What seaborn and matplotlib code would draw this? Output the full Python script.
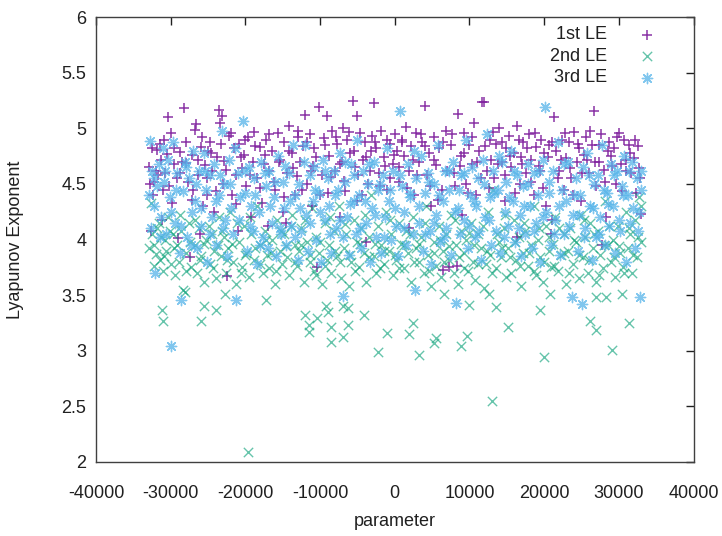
import seaborn as sns
import matplotlib.pyplot as plt
import matplotlib.ticker as mticker
import pandas as pd

# 1st LE (purple +)
le1_x = [-32800, -32500, -32300, -32000, -31800, -31500, -31300, -31000, -32600, -31200,
         -30800, -30500, -30300, -30000, -29800, -29500, -29200, -29000,
         -28800, -28500, -28200, -28000, -27700, -27400, -27200, -27000,
         -26800, -26600, -26300, -26000, -25700, -25400, -25200, -25000,
         -24800, -24500, -24200, -23800, -23500, -23200, -23000, -23400,
         -22800, -22400, -22200, -21800, -21500, -21200, -21000,
         -20800, -20500, -20200, -19900, -19600, -19300, -19000,
         -18800, -18500, -18100, -17800, -17500, -17200, -17000,
         -16800, -16400, -16000, -15700, -15400, -15000,
         -14800, -14400, -14100, -13800, -13400, -13100, -13000,
         -12700, -12300, -12000, -11700, -11400, -11100, -11000,
         -10800, -10400, -10100, -9800, -9500, -9100, -9000,
         -8800, -8400, -8000, -7700, -7400, -7100, -7000,
         -6800, -6400, -6000, -5600, -5300, -5000, -5100,
         -4700, -4300, -4000, -3600, -3200, -3000,
         -2800, -2500, -2100, -1800, -1400, -1100, -1000,
         -700, -300, 0, 300, 600, 900,
         1200, 1500, 1900, 2200, 2600, 2900,
         3200, 3600, 4000, 4300, 4600, 4900,
         5200, 5500, 5900, 6300, 6500, 6800,
         7300, 7500, 7900, 8300, 8500, 8800,
         9200, 9500, 9900, 10300, 10600, 10900,
         11300, 11700, 12000, 12300, 12700, 12900,
         13300, 13600, 14000, 14400, 14700, 14900,
         15300, 15600, 16000, 16400, 16700, 16900,
         17200, 17600, 18000, 18300, 18700, 18900,
         19300, 19600, 20000, 20300, 20700, 20900,
         21300, 21600, 22000, 22400, 22700, 22900,
         23300, 23600, 24000, 24400, 24700, 24900,
         25300, 25600, 26000, 26400, 26700, 26900,
         27300, 27600, 28000, 28300, 28700, 28900,
         29300, 29600, 30000, 30300, 30700, 30900,
         31300, 31600, 32000, 32300, 32600, 32900, 32800,
         -32950, -32400, -31700, -30900, -30200, -29600, -28700, -27900, -27100, -26400,
         -25800, -25100, -24600, -24000, -23300, -22600, -21900, -21300, -20600, -20000,
         -19400, -18700, -18000, -17400, -16900, -16200, -15500, -14900, -14200, -13600,
         -12900, -12400, -11800, -11200, -10600, -10000, -9300, -8600, -7900, -7300,
         -6600, -6100, -5500, -4900, -4400, -3800, -3300, -2600, -2000, -1300,
         -600, -100, 500, 1000, 1700, 2400, 3000, 3500, 4100, 4700,
         5300, 5800, 6400, 7000, 7700, 8100, 8700, 9300, 9800, 10400,
         11000, 11500, 12100, 12600, 13100, 13800, 14300, 14800, 15400, 16100,
         16600, 17000, 17700, 18200, 18800, 19400, 19900, 20500, 21100, 21800,
         22300, 22800, 23400, 23900, 24500, 25100, 25700, 26200, 26800, 27400,
         28100, 28600, 29100, 29800, 30400, 31000, 31500, 32100, 32700,
         -26100, -14600, -3900, 1900, 9000, 16300, 21000, 27800]
le1_y = [4.50, 4.82, 4.52, 4.62, 4.81, 4.86, 4.72, 4.45, 4.08, 4.18,
         4.60, 4.77, 5.10, 4.96, 4.33, 4.68, 4.55, 4.01,
         4.79, 4.70, 5.18, 4.69, 4.52, 3.84, 4.76, 4.45,
         4.99, 5.04, 4.58, 4.83, 4.30, 4.67, 4.40, 4.80,
         4.88, 4.62, 4.25, 4.74, 5.17, 5.11, 4.50, 5.05,
         4.71, 3.67, 4.93, 4.40, 4.82, 4.58, 4.08,
         4.86, 4.64, 4.76, 4.48, 4.92, 4.20, 4.70,
         4.97, 4.55, 4.83, 4.33, 4.68, 4.90, 4.12,
         4.62, 4.80, 4.45, 4.96, 4.72, 4.25,
         4.88, 4.60, 5.02, 4.78, 4.40, 4.57, 4.92,
         4.70, 4.84, 5.12, 4.50, 4.95, 4.30, 4.66,
         4.82, 3.75, 5.19, 4.58, 4.91, 5.11, 4.42,
         4.75, 4.98, 4.62, 4.86, 4.20, 4.70, 5.00,
         4.53, 4.90, 4.78, 5.25, 4.65, 5.11, 4.35,
         4.96, 4.72, 4.88, 4.50, 4.80, 4.93,
         5.23, 4.82, 4.60, 4.98, 4.74, 4.45, 4.90,
         4.86, 4.68, 4.95, 4.80, 4.52, 4.90,
         4.75, 5.01, 4.62, 4.84, 4.40, 4.96,
         4.70, 4.88, 5.20, 4.58, 4.78, 4.30,
         4.92, 4.67, 4.82, 4.45, 3.73, 4.98,
         3.75, 4.85, 4.60, 3.76, 5.13, 4.75,
         4.96, 4.50, 4.85, 4.68, 5.05, 4.40,
         4.80, 5.24, 5.24, 4.62, 4.90, 4.72,
         4.55, 4.86, 5.00, 4.70, 4.35, 4.82,
         4.93, 4.65, 4.78, 5.02, 4.50, 4.74,
         4.88, 4.60, 4.95, 4.72, 4.40, 4.83,
         4.66, 4.90, 4.78, 4.30, 4.85, 4.05,
         5.10, 4.80, 4.62, 4.90, 4.45, 4.73,
         4.88, 4.55, 4.97, 4.70, 4.82, 4.35,
         4.76, 4.92, 4.60, 4.85, 5.16, 4.48,
         4.70, 4.95, 4.63, 4.20, 4.88, 4.75,
         4.82, 4.50, 4.96, 4.68, 4.90, 4.72,
         4.85, 4.60, 4.73, 4.42, 4.84, 4.23, 4.55,
         4.65, 4.40, 4.58, 4.90, 4.48, 4.82, 4.60, 4.88, 4.36, 4.72,
         4.92, 4.55, 4.78, 4.44, 4.86, 4.63, 4.96, 4.32, 4.74, 4.90,
         4.58, 4.84, 4.46, 4.76, 4.95, 4.52, 4.70, 4.38, 4.80, 4.64,
         4.98, 4.45, 4.88, 4.62, 4.74, 4.40, 4.85, 4.56, 4.92, 4.68,
         4.44, 4.97, 4.80, 4.58, 4.40, 4.74, 4.62, 4.88, 4.48, 4.66,
         4.55, 4.76, 4.65, 4.88, 4.46, 4.72, 4.58, 4.95, 4.84, 4.48,
         4.72, 4.36, 4.88, 4.62, 4.95, 4.48, 4.66, 4.78, 4.42, 4.92,
         4.70, 4.55, 4.84, 4.46, 4.97, 4.68, 4.88, 4.58, 4.75, 4.42,
         4.90, 4.68, 4.82, 4.52, 4.96, 4.62, 4.46, 4.74, 4.88, 4.55,
         4.72, 4.96, 4.64, 4.40, 4.86, 4.60, 4.72, 4.98, 4.70, 4.85,
         4.52, 4.80, 4.66, 4.92, 4.44, 4.62, 4.78, 4.90, 4.64,
         4.05, 4.15, 3.98, 4.10, 4.22, 4.02, 4.18, 3.95]

# 2nd LE (green x)
le2_x = [-32700, -32500, -32300, -32000, -31800, -31500, -31300, -31100,
         -30800, -30600, -30300, -30000, -29700, -29400, -29100,
         -28900, -28600, -28400, -28100, -27900, -27600, -27300,
         -26800, -26500, -26200, -25900, -25600, -25300,
         -24800, -24500, -24200, -23900, -23600, -23300,
         -22900, -22600, -22300, -22000, -21600, -21300,
         -20800, -20500, -20200, -19900, -19500, -19200,
         -18800, -18500, -18100, -17700, -17400, -17100,
         -16800, -16400, -16100, -15800, -15400, -15100,
         -14800, -14400, -14100, -13700, -13400, -13100,
         -12800, -12500, -12100, -11800, -11400, -11100,
         -10800, -10500, -10100, -9700, -9400, -9100,
         -8800, -8500, -8200, -7800, -7500, -7200,
         -6800, -6500, -6100, -5800, -5400, -5100,
         -4800, -4500, -4100, -3800, -3500, -3200,
         -2800, -2500, -2200, -1900, -1500, -1200,
         -800, -500, -200, 200, 500, 800,
         1200, 1500, 1800, 2200, 2500, 2800,
         3200, 3500, 3900, 4200, 4500, 4800,
         5200, 5500, 5900, 6200, 6500, 6800,
         7200, 7500, 7900, 8200, 8500, 8800,
         9200, 9500, 9800, 10200, 10500, 10800,
         11200, 11500, 11900, 12200, 12500, 12800,
         13200, 13500, 13900, 14200, 14600, 14900,
         15200, 15500, 15900, 16200, 16600, 16900,
         17200, 17500, 17900, 18200, 18600, 18900,
         19200, 19500, 19900, 20200, 20600, 20900,
         21200, 21500, 21900, 22200, 22600, 22900,
         23200, 23500, 23900, 24200, 24600, 24900,
         25200, 25500, 25900, 26200, 26600, 26900,
         27200, 27500, 27900, 28200, 28600, 28900,
         29200, 29500, 29900, 30200, 30600, 30900,
         31200, 31500, 31800, 32100, 32400, 32700, 32900,
         -32900, -32200, -31600, -30900, -30100, -29500, -28800, -28000, -27400, -26700,
         -26100, -25500, -24900, -24300, -23700, -23100, -22400, -21800, -21100, -20600,
         -20000, -19400, -18700, -18000, -17200, -16600, -15900, -15300, -14600, -13900,
         -13300, -12600, -12000, -11300, -10600, -10000, -9300, -8700, -8000, -7400,
         -6700, -6000, -5300, -4700, -4000, -3400, -2700, -2000, -1400, -700,
         0, 600, 1300, 2000, 2600, 3300, 4000, 4600, 5300, 6000,
         6600, 7300, 8000, 8600, 9300, 9900, 10600, 11100, 11800, 12400,
         13000, 13700, 14300, 14800, 15400, 16100, 16700, 17300, 18000, 18700,
         19300, 20000, 20700, 21300, 22000, 22700, 23300, 24000, 24700, 25300,
         26000, 26700, 27300, 28000, 28700, 29300, 30000, 30700, 31300, 31900,
         32500, 32900,
         # low outliers
         -31200, -31000, -25600, -25900, -23900, -22700, -17200, -19600,
         -12000, -11500, -11500, -10400, -9200, -9000, -8600, -8500,
         -6900, -6900, -6300, -6300, -4100, -2300, -1000, 1900,
         2400, 3200, 5200, 5500, 6600, 8800, 9700, 10000,
         12600, 13000, 13600, 15200, 19500, 20000, 20800, 26200,
         27000, 27000, 28300, 29100, 30400, 31300]
le2_y = [4.33, 4.05, 3.95, 3.87, 4.10, 3.82, 4.02, 3.72,
         4.00, 3.90, 4.20, 3.78, 4.05, 3.68, 3.95,
         3.80, 4.08, 3.55, 3.53, 3.88, 4.15, 3.75,
         3.95, 3.70, 4.10, 3.85, 3.62, 4.00,
         3.78, 4.05, 3.90, 3.65, 4.20, 3.85,
         4.02, 3.70, 3.92, 4.25, 3.80, 3.60,
         3.98, 3.75, 4.12, 3.88, 3.66, 4.05,
         3.82, 4.30, 3.95, 3.70, 4.08, 3.86,
         3.74, 4.00, 3.60, 4.18, 3.90, 3.78,
         4.05, 3.84, 3.68, 4.22, 3.95, 3.76,
         3.90, 4.10, 3.62, 3.98, 3.80, 4.28,
         3.72, 4.02, 3.88, 3.60, 4.15, 3.82,
         3.95, 3.70, 4.08, 3.85, 4.30, 3.65,
         3.92, 4.05, 3.58, 3.80, 4.18, 3.98,
         3.75, 4.10, 3.88, 3.62, 4.02, 4.40,
         3.85, 3.70, 4.12, 3.95, 3.78, 4.25,
         3.90, 4.05, 3.68, 3.82, 4.15, 3.96,
         3.74, 4.08, 3.88, 3.62, 4.20, 3.92,
         3.80, 4.02, 3.70, 4.30, 3.86, 3.58,
         3.98, 3.76, 4.12, 3.66, 3.90, 4.05,
         3.82, 4.22, 3.70, 3.95, 3.60, 4.08,
         3.88, 4.00, 3.72, 4.15, 3.80, 3.64,
         4.05, 3.92, 3.56, 3.78, 4.25, 3.86,
         4.45, 3.74, 3.98, 3.84, 4.10, 3.66,
         3.92, 3.70, 4.18, 3.82, 4.02, 3.58,
         3.88, 4.08, 3.76, 3.95, 4.30, 3.68,
         4.00, 3.84, 3.62, 4.12, 3.90, 3.75,
         3.96, 4.20, 3.72, 3.86, 4.05, 3.60,
         3.90, 4.10, 3.78, 3.98, 3.65, 4.22,
         3.84, 4.02, 3.70, 4.15, 3.92, 3.62,
         4.08, 3.86, 3.74, 4.35, 3.95, 3.80,
         4.00, 3.66, 4.12, 3.88, 3.75, 4.25,
         3.92, 4.05, 3.70, 4.18, 3.84, 4.38, 3.98,
         3.92, 3.76, 4.15, 3.85, 4.08, 3.92, 4.22, 3.72, 3.98, 4.18,
         3.82, 3.96, 4.12, 3.74, 3.95, 4.08, 3.82, 3.96, 4.15, 3.70,
         3.86, 4.20, 3.92, 3.78, 4.00, 3.88, 3.72, 4.08, 3.94, 4.12,
         3.80, 3.95, 4.18, 3.86, 3.68, 3.98, 3.76, 4.20, 3.90, 3.80,
         4.14, 3.86, 3.72, 3.96, 4.22, 3.84, 3.96, 3.74, 3.90, 4.18,
         3.86, 3.74, 3.95, 4.05, 3.80, 3.96, 4.15, 3.72, 3.88, 4.00,
         3.80, 3.94, 4.18, 3.84, 3.74, 4.06, 3.95, 3.78, 4.12, 3.90,
         3.70, 4.05, 3.92, 4.22, 3.84, 3.98, 3.76, 4.15, 3.88, 3.72,
         4.10, 3.80, 4.02, 3.76, 4.10, 3.88, 3.70, 4.00, 3.86, 4.18,
         3.82, 4.05, 3.68, 3.95, 4.12, 3.84, 3.94, 3.70, 4.10, 3.86,
         4.02, 4.30,
         3.37, 3.27, 3.40, 3.27, 3.37, 3.51, 3.46, 2.09,
         3.32, 3.23, 3.17, 3.29, 3.40, 3.35, 3.21, 3.08,
         3.40, 3.12, 3.38, 3.23, 3.32, 2.99, 3.16, 3.15,
         3.25, 2.96, 3.07, 3.11, 3.51, 3.04, 3.13, 3.41,
         3.51, 2.55, 3.39, 3.21, 3.37, 2.94, 3.51, 3.27,
         3.19, 3.48, 3.48, 3.01, 3.51, 3.25]

# 3rd LE (blue asterisk)
le3_x = [-32800, -32600, -32500, -32300, -32100, -31900, -31600, -31300, -31100,
         -30900, -30600, -30400, -30100, -29900, -29700, -29400, -29100,
         -28800, -28600, -28400, -28100, -27800, -27500, -27200, -27000,
         -26800, -26500, -26200, -25900, -25600, -25300, -25100,
         -24800, -24500, -24200, -23900, -23600, -23200, -23000,
         -22800, -22500, -22200, -21900, -21600, -21200, -21000,
         -20800, -20300, -20100, -19800, -19500, -19200, -19000,
         -18800, -18500, -18200, -17900, -17600, -17300, -17000,
         -16800, -16500, -16200, -15900, -15600, -15300, -15000,
         -14800, -14500, -14200, -13900, -13600, -13300, -13000,
         -12800, -12500, -12200, -11900, -11600, -11300, -11000,
         -10800, -10500, -10200, -9900, -9600, -9300, -9000,
         -8800, -8500, -8200, -7900, -7600, -7300, -7000, -6900,
         -6700, -6400, -6100, -5800, -5500, -5200, -5000,
         -4800, -4500, -4200, -3900, -3600, -3300, -3000,
         -2800, -2500, -2200, -1900, -1600, -1300, -1000,
         -800, -500, -200, 100, 400, 700, 900,
         1200, 1500, 1800, 2100, 2400, 2700, 2900,
         3200, 3500, 3800, 4100, 4400, 4700, 4900,
         5200, 5500, 5800, 6100, 6400, 6700, 6900,
         7200, 7500, 7800, 8200, 8400, 8700, 8900,
         9200, 9500, 9800, 10100, 10400, 10700, 10900,
         11200, 11500, 11800, 12100, 12400, 12700, 12900,
         13200, 13500, 13800, 14100, 14400, 14700, 14900,
         15200, 15500, 15800, 16100, 16400, 16700, 16900,
         17200, 17500, 17800, 18100, 18400, 18700, 18900,
         19200, 19500, 19800, 20100, 20300, 20600, 20900,
         21200, 21500, 21800, 22100, 22400, 22700, 22900,
         23200, 23700, 23900, 24200, 24500, 25000, 24800,
         25200, 25500, 25800, 26100, 26400, 26700, 26900,
         27200, 27500, 27800, 28100, 28400, 28700, 28900,
         29200, 29500, 29800, 30100, 30400, 30700, 30900,
         31200, 31500, 31800, 32100, 32400, 32700, 32800, 32900,
         -32850, -32200, -31500, -30700, -30000, -29300, -28600, -27900, -27300, -26600,
         -26000, -25400, -24700, -24000, -23400, -22700, -22000, -21400, -20700, -20000,
         -19400, -18700, -18000, -17400, -16700, -16000, -15400, -14700, -14000, -13400,
         -12700, -12000, -11400, -10700, -10000, -9400, -8700, -8000, -7400, -6700,
         -6000, -5400, -4700, -4000, -3400, -2700, -2000, -1400, -700, 0,
         700, 1300, 2000, 2600, 3300, 4000, 4600, 5300, 5900, 6600,
         7300, 8000, 8600, 9300, 9900, 10600, 11300, 11900, 12600, 13300,
         13900, 14600, 15300, 15900, 16600, 17300, 17900, 18600, 19300, 19900,
         20700, 21300, 22000, 22600, 23300, 24000, 24600, 25300, 26000, 26600,
         27300, 28000, 28600, 29300, 30000, 30600, 31300, 31900, 32500, 32950]
le3_y = [4.89, 4.10, 4.62, 4.30, 3.70, 4.48, 4.68, 4.20, 4.82,
         4.52, 4.05, 4.72, 4.38, 3.04, 4.88, 4.15, 4.60,
         3.88, 3.46, 4.44, 4.70, 4.02, 4.55, 4.25, 4.80,
         4.35, 3.92, 4.62, 4.12, 4.78, 4.45, 3.80,
         4.58, 4.20, 4.68, 3.95, 4.40, 4.98, 4.10,
         4.50, 3.85, 4.72, 4.28, 4.05, 3.46, 4.60,
         4.18, 5.07, 4.42, 3.90, 4.65, 4.30, 4.08,
         4.55, 3.78, 4.25, 4.70, 4.02, 4.48, 3.92,
         4.62, 4.15, 4.38, 3.85, 4.75, 4.05, 4.52,
         4.28, 3.95, 4.60, 4.12, 4.85, 4.40, 3.82,
         4.50, 4.08, 4.70, 4.22, 3.90, 4.58, 4.35,
         4.65, 4.00, 4.42, 3.80, 4.72, 4.18, 4.55,
         4.30, 3.88, 4.62, 4.10, 4.45, 4.78, 3.49, 4.02,
         4.52, 4.20, 3.86, 4.68, 4.35, 4.05, 4.90,
         4.40, 3.92, 4.62, 4.15, 4.50, 3.80, 4.28,
         4.70, 4.02, 4.45, 3.88, 4.58, 4.20, 4.82,
         4.35, 4.00, 4.62, 4.12, 3.85, 5.16, 4.48,
         4.25, 3.95, 4.68, 4.38, 4.05, 3.55, 4.55,
         4.15, 4.75, 3.90, 4.42, 4.60, 4.08, 3.78,
         4.50, 4.22, 4.85, 3.98, 4.35, 4.62, 4.10,
         4.45, 3.86, 4.70, 3.43, 4.28, 4.05, 4.58,
         4.18, 4.90, 3.92, 4.40, 4.65, 4.02, 4.30,
         4.55, 3.82, 4.72, 4.20, 4.95, 4.38, 3.95,
         4.62, 4.08, 4.45, 3.88, 4.70, 4.25, 4.52,
         4.12, 4.80, 4.35, 3.98, 4.58, 4.22, 3.85,
         4.48, 4.05, 4.68, 4.30, 3.92, 4.60, 4.15,
         4.40, 3.80, 4.72, 5.19, 4.25, 4.52, 3.95,
         4.62, 4.18, 4.88, 3.86, 4.45, 4.05, 4.35,
         4.70, 3.48, 4.22, 4.55, 3.90, 3.42, 4.40,
         4.65, 4.10, 4.78, 4.30, 3.82, 4.50, 4.02,
         4.58, 4.20, 4.85, 3.95, 4.42, 4.12, 4.68,
         4.30, 3.88, 4.62, 4.08, 4.48, 4.75, 3.80,
         4.40, 4.15, 4.70, 3.92, 4.55, 4.25, 3.48, 4.62,
         4.40, 4.55, 4.02, 4.62, 4.25, 4.45, 4.12, 4.65, 3.95, 4.50,
         4.28, 4.62, 4.05, 4.35, 4.58, 4.18, 4.50, 4.82, 4.38, 4.62,
         4.12, 4.40, 3.95, 4.60, 4.30, 4.52, 4.10, 4.66, 4.35, 4.02,
         4.28, 4.85, 4.15, 4.45, 4.25, 4.62, 4.05, 4.40, 4.18, 4.70,
         4.32, 4.58, 4.10, 4.35, 4.68, 4.22, 4.50, 4.02, 4.45, 4.28,
         4.58, 4.10, 4.42, 4.80, 4.30, 4.05, 4.52, 4.15, 4.40, 4.02,
         4.62, 4.25, 4.45, 4.60, 4.12, 4.35, 4.08, 4.50, 4.18, 4.42,
         4.75, 4.02, 4.38, 4.62, 4.10, 4.30, 4.50, 4.08, 4.62, 4.20,
         4.42, 4.05, 4.30, 4.68, 4.12, 4.40, 4.22, 4.02, 4.58, 4.28,
         4.05, 4.45, 4.32, 4.58, 4.18, 4.40, 4.62, 4.28, 4.08, 4.45]

df1 = pd.DataFrame({"parameter": le1_x, "LE": le1_y})
df2 = pd.DataFrame({"parameter": le2_x, "LE": le2_y})
df3 = pd.DataFrame({"parameter": le3_x, "LE": le3_y})

sns.set_style("white")
plt.rcParams["font.family"] = ["Liberation Sans", "DejaVu Sans"]
plt.rcParams["axes.unicode_minus"] = False

fig = plt.figure(figsize=(7.22, 5.36), dpi=100)
ax = fig.add_axes([0.133, 0.1386, 0.8276, 0.829])

# gnuplot-ish markers: plus, cross, asterisk
sns.scatterplot(data=df1, x="parameter", y="LE", marker="+", color="#7E1E9C",
                s=55, linewidth=1.1, alpha=0.9, label="1st LE", ax=ax)
sns.scatterplot(data=df2, x="parameter", y="LE", marker="x", color="#009E73",
                s=45, linewidth=1.0, alpha=0.6, label="2nd LE", ax=ax)
sns.scatterplot(data=df3, x="parameter", y="LE", marker=(8, 2, 0), color="#56B4E9",
                s=55, linewidth=1.0, alpha=0.75, label="3rd LE", ax=ax)

ax.set_xlim(-40000, 40000)
ax.set_ylim(2, 6)
ax.xaxis.set_major_locator(mticker.MultipleLocator(10000))
ax.yaxis.set_major_locator(mticker.MultipleLocator(0.5))
ax.yaxis.set_major_formatter(mticker.FormatStrFormatter("%g"))
ax.tick_params(direction="in", length=6, width=1, top=True, right=True,
               labelsize=13, colors="#202020", pad=7)
ax.tick_params(axis="x", pad=17)
for sp in ax.spines.values():
    sp.set_color("#404040")
    sp.set_linewidth(1)

ax.set_xlabel("parameter", fontsize=13, color="#202020")
ax.set_ylabel("Lyapunov Exponent", fontsize=13, color="#202020")
ax.xaxis.set_label_coords(0.5, -0.115)
ax.yaxis.set_label_coords(-0.12, 0.5)

leg = ax.legend(loc="upper right", markerfirst=False, frameon=False, fontsize=13,
                handletextpad=1.22, labelspacing=0.25, borderaxespad=0.1,
                bbox_to_anchor=(0.967, 1.0))
for t in leg.get_texts():
    t.set_color("#202020")

fig.savefig("out.png", dpi=100)
